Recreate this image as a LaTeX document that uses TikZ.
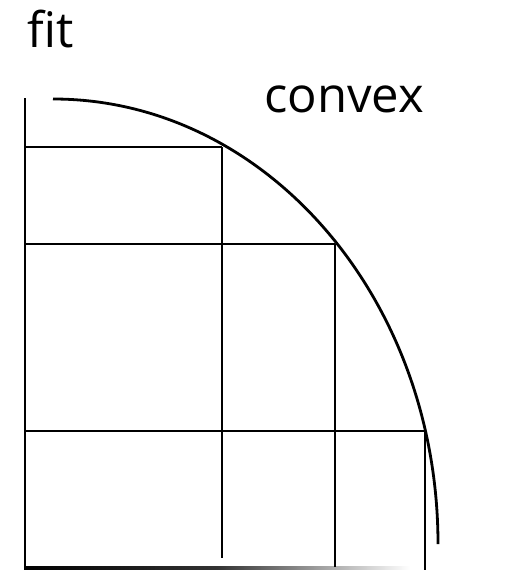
\documentclass[tikz,border=0pt]{standalone}
\usepackage{fontspec}
\setmainfont{Open Sans}
\begin{document}
\begin{tikzpicture}[x=1pt,y=-1pt,
  ln/.style={line width=2.8pt},
  lbl/.style={anchor=base west,inner sep=0pt,font=\fontsize{49}{58}\selectfont}]
\useasboundingbox (0,0) rectangle (526,570);
% labels
\node[lbl] (fit) at (27,47) {fit};
\node[lbl] (convex) at (264,112) {convex};
% key points
\coordinate (top) at (25,98);
\coordinate (orig) at (25,568);
\coordinate (p1) at (222,147);
\coordinate (p2) at (335,244);
\coordinate (p3) at (425,431);
\coordinate (l1) at (25,147);
\coordinate (l2) at (25,244);
\coordinate (l3) at (25,431);
\coordinate (b1) at (222,558);
\coordinate (b2) at (335,567);
\coordinate (b3) at (425,570);
% axis
\draw[ln] (top) -- (orig);
\shade[left color=black,right color=white,middle color=black!80] (24,566.5) rectangle (410,569.6);
% convex curve
\draw[ln] (53,99) arc[start angle=90,end angle=0,x radius=385,y radius=-445];
% grid
\draw[ln] (l1) -- (p1);
\draw[ln] (l2) -- (p2);
\draw[ln] (l3) -- (p3);
\draw[ln] (p1) -- (b1);
\draw[ln] (p2) -- (b2);
\draw[ln] (p3) -- (b3);
\end{tikzpicture}
\end{document}
